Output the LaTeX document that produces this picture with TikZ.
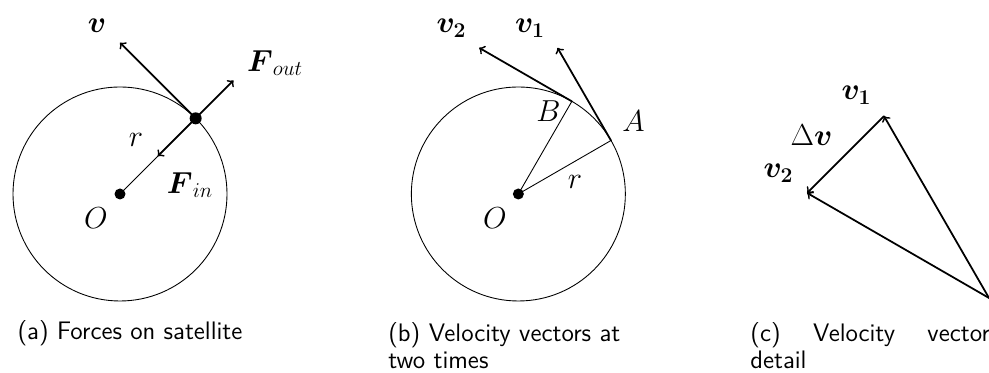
\documentclass[tikz,border=0pt]{standalone}
\usepackage{amsmath}
\begin{document}
\begin{tikzpicture}[line cap=round,line join=round,>=to,
  vec/.style={->,line width=1pt},
  thin line/.style={line width=0.5pt},
  lbl/.style={font=\LARGE,inner sep=0pt},
  caption/.style={font=\sffamily\fontsize{14.4}{15.5}\selectfont,inner sep=0pt}]
  \useasboundingbox (0,0) rectangle (19.78,7.46);
  % (a) forces on the satellite
  \coordinate (Oa) at (2.40,3.58);
  \coordinate (S) at (3.913,5.093);
  \coordinate (Va) at (2.40,6.606);
  \coordinate (Fo) at (4.670,5.850);
  \coordinate (Fi) at (3.157,4.337);
  \draw[thin line] (Oa) circle[radius=2.14];
  \draw[thin line] (Oa) -- (S);
  \draw[vec] (S) -- (Va);
  \draw[vec] (S) -- (Fo);
  \draw[vec] (S) -- (Fi);
  \fill (Oa) circle[radius=0.11];
  \fill (S) circle[radius=0.12];
  \node[lbl] (la-v) at (1.94,6.94) {$\boldsymbol{v}$};
  \node[lbl] (la-fo) at (5.50,6.20) {$\boldsymbol{F}_{out}$};
  \node[lbl] (la-r) at (2.72,4.66) {$r$};
  \node[lbl] (la-fi) at (3.80,3.76) {$\boldsymbol{F}_{in}$};
  \node[lbl] (la-o) at (1.92,3.10) {$O$};
  \node[caption] (cap-a) at (2.60,0.80) {(a) Forces on satellite};
  % (b) velocity at A and at B
  \coordinate (Ob) at (10.367,3.58);
  \coordinate (A) at (12.220,4.650);
  \coordinate (B) at (11.437,5.433);
  \coordinate (V1) at (11.150,6.503);
  \coordinate (V2) at (9.584,6.503);
  \draw[thin line] (Ob) circle[radius=2.14];
  \draw[thin line] (Ob) -- (A);
  \draw[thin line] (Ob) -- (B);
  \draw[vec] (A) -- (V1);
  \draw[vec] (B) -- (V2);
  \fill (Ob) circle[radius=0.11];
  \node[lbl] (lb-v2) at (9.03,6.89) {$\boldsymbol{v_2}$};
  \node[lbl] (lb-v1) at (10.60,6.89) {$\boldsymbol{v_1}$};
  \node[lbl] (lb-b) at (10.97,5.23) {$B$};
  \node[lbl] (lb-a) at (12.67,5.03) {$A$};
  \node[lbl] (lb-r) at (11.50,3.83) {$r$};
  \node[lbl] (lb-o) at (9.90,3.09) {$O$};
  \node[caption,anchor=north west,text width=5.4cm,align=left] (cap-b)
    at (7.76,1.02) {(b) Velocity vectors at\\two times};
  % (c) the two vectors tail to tail
  \coordinate (P) at (19.78,1.50);
  \coordinate (W1) at (17.68,5.137);
  \coordinate (W2) at (16.143,3.60);
  \draw[vec] (P) -- (W1);
  \draw[vec] (P) -- (W2);
  \draw[vec] (W1) -- (W2);
  \node[lbl] (lc-v1) at (17.13,5.56) {$\boldsymbol{v_1}$};
  \node[lbl] (lc-dv) at (16.23,4.76) {$\Delta\boldsymbol{v}$};
  \node[lbl] (lc-v2) at (15.57,3.99) {$\boldsymbol{v_2}$};
  \node[caption,anchor=north west,text width=6.0cm,align=justify] (cap-c)
    at (15.00,1.02) {(c) Velocity vectors in\linebreak detail};
\end{tikzpicture}
\end{document}
